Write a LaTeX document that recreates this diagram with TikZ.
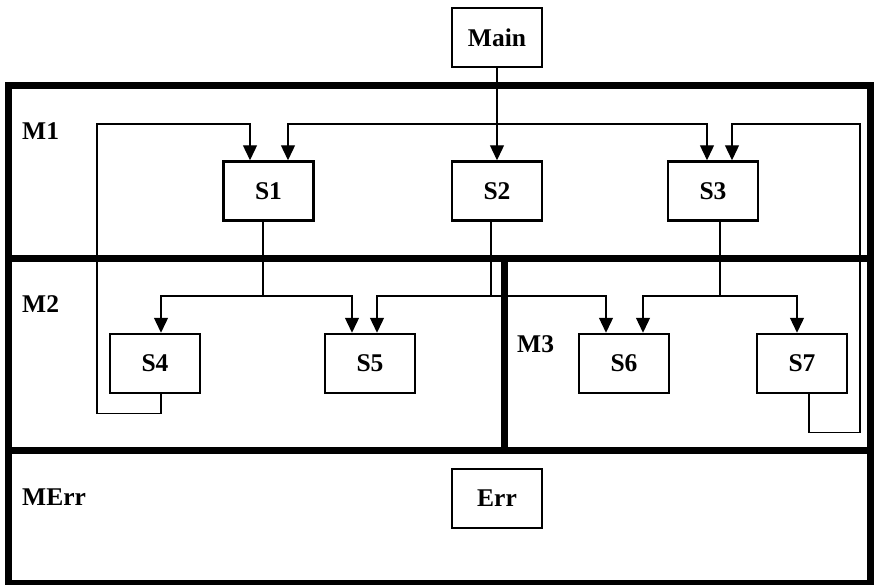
\documentclass[tikz,border=0pt]{standalone}
\usepackage{fontspec}
\setmainfont{Liberation Serif}
\usetikzlibrary{arrows.meta}
\begin{document}
\begin{tikzpicture}[x=1pt,y=-1pt,
  box/.style={draw,line width=2.5pt,minimum width=90pt,minimum height=59pt,inner sep=0pt,font=\fontsize{25.5}{30}\selectfont\bfseries},
  lbl/.style={anchor=base west,inner sep=0pt,font=\fontsize{25.5}{30}\selectfont\bfseries},
  conn/.style={line width=1.3pt},
  arr/.style={conn,-{Triangle[width=14pt,length=15pt]}},
  wall/.style={line width=7pt}]
\useasboundingbox (0,0) rectangle (874,584);
% module frame
\draw[wall] (8.5,85.5) rectangle (870,583);
\draw[wall] (8.5,258) -- (870,258);
\draw[wall] (8.5,450) -- (870,450);
\draw[wall] (504,258) -- (504,450);
% labels
\node[lbl] (M1) at (22,139) {M1};
\node[lbl] (M2) at (22,312) {M2};
\node[lbl] (M3) at (517,352) {M3};
\node[lbl] (MErr) at (22,505) {MErr};
% boxes
\node[box] (Main) at (497,37.5) {Main};
\node[box] (S1) at (268.5,191) {S1};
\node[box] (S2) at (497,191) {S2};
\node[box] (S3) at (713,191) {S3};
\node[box] (S4) at (155,363.5) {S4};
\node[box] (S5) at (370,363.5) {S5};
\node[box] (S6) at (624,363.5) {S6};
\node[box] (S7) at (802,363.5) {S7};
\node[box] (Err) at (497,498.5) {Err};
% connectors
\coordinate (top) at (497,124);
\draw[arr] (Main.south) -- (S2.north);
\draw[arr] (top) -| ([xshift=19.5pt]S1.north);
\draw[arr] (top) -| ([xshift=-6pt]S3.north);
\draw[arr] ([xshift=6pt]S4.south) -- ++(0,19) -| (97,124) -| ([xshift=-18.5pt]S1.north);
\draw[arr] ([xshift=7pt]S7.south) -- ++(0,38) -| (860,124) -| ([xshift=19pt]S3.north);
\coordinate (b1) at (263,296);
\draw[conn] ([xshift=-5.5pt]S1.south) -- (b1);
\draw[arr] (b1) -| ([xshift=6pt]S4.north);
\draw[arr] (b1) -| ([xshift=-18pt]S5.north);
\coordinate (b2) at (491,296);
\draw[conn] ([xshift=-6pt]S2.south) -- (b2);
\draw[arr] (b2) -| ([xshift=7pt]S5.north);
\draw[arr] (b2) -| ([xshift=-18pt]S6.north);
\coordinate (b3) at (720,296);
\draw[conn] ([xshift=7pt]S3.south) -- (b3);
\draw[arr] (b3) -| ([xshift=19pt]S6.north);
\draw[arr] (b3) -| ([xshift=-5pt]S7.north);
\end{tikzpicture}
\end{document}
